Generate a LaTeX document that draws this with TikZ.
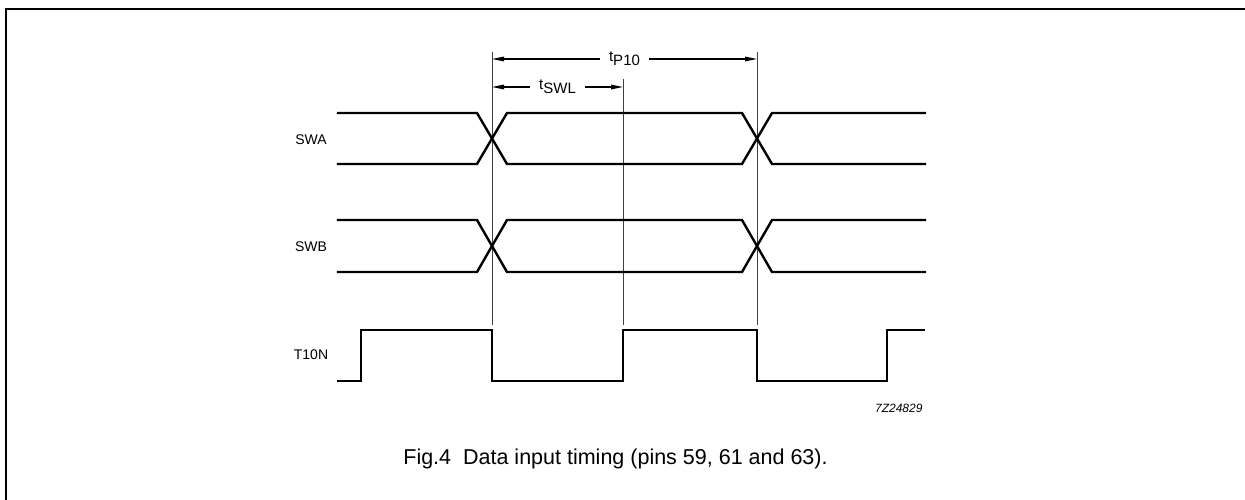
\documentclass[tikz,border=0pt]{standalone}
\usepackage{fontspec}
\setmainfont{Liberation Sans}
\usetikzlibrary{arrows.meta}
\begin{document}
\begin{tikzpicture}[x=1pt,y=-1pt,
  sig/.style={line width=2.4pt, line join=miter, line cap=rect},
  guide/.style={line width=0.9pt, black!75},
  dimline/.style={line width=1.2pt, {Triangle[length=12pt,width=4.6pt]}-{Triangle[length=12pt,width=4.6pt]}},
  dimlabel/.style={fill=white, inner xsep=9pt, inner ysep=1pt, font=\fontsize{15}{17}\selectfont},
  siglabel/.style={font=\fontsize{14}{16}\selectfont, anchor=center},
  frameline/.style={line width=2pt, black}]
\useasboundingbox (0,0) rectangle (1245,499);
\clip (0,0) rectangle (1245,499);
% frame
\draw[frameline] (6,520) -- (6,9) -- (1260,9);
% guide coordinates
\coordinate (g1top) at (492,52);
\coordinate (g1bot) at (492,325);
\coordinate (g2top) at (623,79);
\coordinate (g2bot) at (623,325);
\coordinate (g3top) at (757,52);
\coordinate (g3bot) at (757,325);
\draw[guide] (g1top) -- (g1bot);
\draw[guide] (g2top) -- (g2bot);
\draw[guide] (g3top) -- (g3bot);
% dimension arrows
\coordinate (p10a) at (492,59);
\coordinate (p10b) at (757,59);
\coordinate (swla) at (492,87);
\coordinate (swlb) at (623,87);
\draw[dimline] (p10a) -- node[dimlabel] (tp10) {t\raisebox{-4pt}{P10}} (p10b);
\draw[dimline] (swla) -- node[dimlabel] (tswl) {t\raisebox{-4pt}{SWL}} (swlb);
% SWA
\node[siglabel] (swa) at (311,140) {SWA};
\draw[sig] (338,113) -- (477,113) -- (507,164) -- (742,164) -- (772,113) -- (925,113);
\draw[sig] (338,164) -- (477,164) -- (507,113) -- (742,113) -- (772,164) -- (925,164);
% SWB
\node[siglabel] (swb) at (311,247) {SWB};
\draw[sig] (338,220) -- (477,220) -- (507,272) -- (742,272) -- (772,220) -- (925,220);
\draw[sig] (338,272) -- (477,272) -- (507,220) -- (742,220) -- (772,272) -- (925,272);
% T10N
\node[siglabel] (t10n) at (311,355) {T10N};
\draw[sig] (338,381) -- (361,381) -- (361,330) -- (492,330) -- (492,381) -- (623,381) -- (623,330) -- (757,330) -- (757,381) -- (887,381) -- (887,330) -- (924,330);
% reference code
\node[anchor=east, font=\fontsize{12}{14}\selectfont\itshape] (code) at (926,408) {7Z24829};
% caption
\node[font=\fontsize{21.5}{24}\selectfont] (cap) at (615.5,459) {Fig.4\ \ Data input timing (pins 59, 61 and 63).};
\end{tikzpicture}
\end{document}
